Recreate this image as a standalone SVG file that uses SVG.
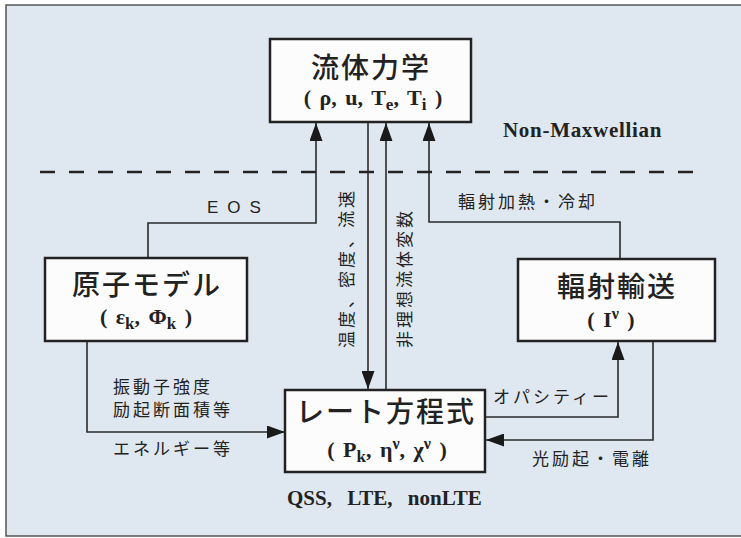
<svg xmlns="http://www.w3.org/2000/svg" width="741" height="538" viewBox="0 0 741 538">
<style>
.box{fill:#fcfcfc;stroke:#222;stroke-width:2.5}
.ln{fill:none;stroke:#2a2a2a;stroke-width:1.6}
.title{font-family:"Noto Sans CJK JP",sans-serif;font-weight:500;font-size:28px;letter-spacing:2px;fill:#222;text-anchor:middle}
.sub{font-family:"Liberation Serif",serif;font-weight:bold;font-size:22px;word-spacing:3px;fill:#222;text-anchor:middle}
.lbl{font-family:"Noto Sans CJK JP",sans-serif;font-size:17px;letter-spacing:3px;fill:#222}
.ser{font-family:"Liberation Serif",serif;font-weight:bold;font-size:21px;fill:#222}
</style>
<defs>
<marker id="ah" markerWidth="18" markerHeight="13" refX="18" refY="6.5" orient="auto" markerUnits="userSpaceOnUse">
<path d="M0,0 L18,6.5 L0,13 z" fill="#1a1a1a"/>
</marker>
</defs>
<rect x="0" y="0" width="741" height="538" fill="#ffffff"/>
<rect x="6" y="5" width="740" height="531" fill="#dfe8f0" stroke="#555" stroke-width="1.5"/>
<line x1="40" y1="172" x2="706" y2="172" stroke="#222" stroke-width="2.5" stroke-dasharray="15 14"/>
<g id="connectors">
<polyline class="ln" points="148,258 148,223 316,223 316,123" marker-end="url(#ah)"/>
<polyline class="ln" points="620,259 620,222 429,222 429,123" marker-end="url(#ah)"/>
<line class="ln" x1="368" y1="123" x2="368" y2="389" marker-end="url(#ah)"/>
<line class="ln" x1="386" y1="389" x2="386" y2="123" marker-end="url(#ah)"/>
<polyline class="ln" points="87,341 87,432 285,432" marker-end="url(#ah)"/>
<polyline class="ln" points="485,417 618,417 618,342" marker-end="url(#ah)"/>
<polyline class="ln" points="653,341 653,440 486,440" marker-end="url(#ah)"/>
</g>
<g id="fluid">
<rect class="box" x="270" y="39" width="201" height="83"/>
<text class="title" x="371" y="78">流体力学</text>
<text class="sub" x="373" y="105">( ρ, u, T<tspan font-size="17" dy="5">e</tspan><tspan dy="-5">, T</tspan><tspan font-size="17" dy="5">i</tspan><tspan dy="-5"> )</tspan></text>
</g>
<g id="atom">
<rect class="box" x="45" y="258" width="202" height="83"/>
<text class="title" x="147" y="295">原子モデル</text>
<text class="sub" x="146" y="324">( ε<tspan font-size="17" dy="5">k</tspan><tspan dy="-5">, Φ</tspan><tspan font-size="17" dy="5">k</tspan><tspan dy="-5"> )</tspan></text>
</g>
<g id="radiation">
<rect class="box" x="518" y="259" width="197" height="82"/>
<text class="title" x="617" y="297">輻射輸送</text>
<text class="sub" x="611" y="327" word-spacing="6">( I<tspan font-size="16" dy="-8">ν</tspan><tspan dy="8"> )</tspan></text>
</g>
<g id="rate">
<rect class="box" x="285" y="390" width="200" height="82"/>
<text class="title" x="386" y="422">レート方程式</text>
<text class="sub" x="387" y="457">( P<tspan font-size="17" dy="5">k</tspan><tspan dy="-5">, η</tspan><tspan font-size="16" dy="-8">ν</tspan><tspan dy="8">, χ</tspan><tspan font-size="16" dy="-8">ν</tspan><tspan dy="8"> )</tspan></text>
</g>
<g id="labels">
<text x="207" y="213" font-family="Liberation Sans,sans-serif" font-size="17" letter-spacing="9" fill="#222">EOS</text>
<text class="lbl" x="458" y="208">輻射加熱・冷却</text>
<text class="ser" x="503" y="137" letter-spacing="0.7">Non-Maxwellian</text>
<text class="lbl" transform="translate(353,348) rotate(-90)">温度、密度、流速</text>
<text class="lbl" transform="translate(411,348) rotate(-90)">非理想流体変数</text>
<text class="lbl" x="113" y="393">振動子強度</text>
<text class="lbl" x="113" y="416">励起断面積等</text>
<text class="lbl" x="113" y="455">エネルギー等</text>
<text class="lbl" x="493" y="403">オパシティー</text>
<text class="lbl" x="532" y="465">光励起・電離</text>
<text class="ser" x="287" y="505" word-spacing="10">QSS, LTE, nonLTE</text>
</g>
</svg>
